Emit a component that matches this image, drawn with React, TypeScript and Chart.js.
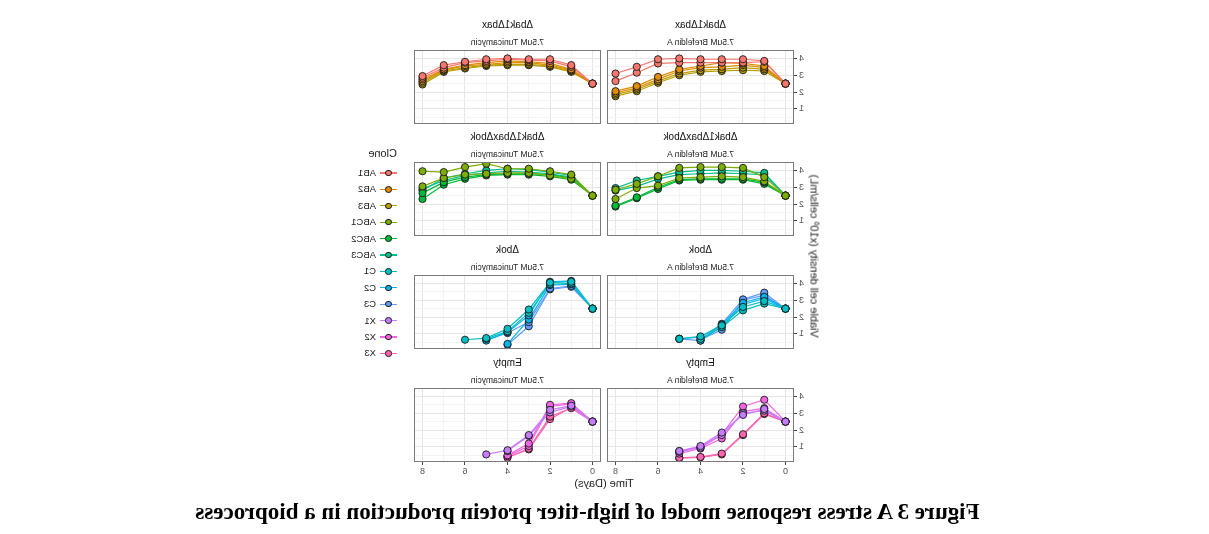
import React, { useEffect, useRef } from "react";
import { Chart, registerables } from "chart.js";

Chart.register(...registerables);

// ---------- data ----------
const DAYS = [0, 1, 2, 3, 4, 5, 6, 7, 8];
const X_TICKS = [0, 2, 4, 6, 8];
const X_GRID = [0, 1, 2, 3, 4, 5, 6, 7, 8];
const Y_TICKS = [1, 2, 3, 4];
const Y_GRID = [0.5, 1, 1.5, 2, 2.5, 3, 3.5, 4];

const CLONES = ["AB1", "AB2", "AB3", "ABC1", "ABC2", "ABC3", "C1", "C2", "C3", "X1", "X2", "X3"];
const CLONE_COLORS = [
  "#F8766D", "#DE8C00", "#B79F00", "#7CAE00", "#00BA38", "#00C08B",
  "#00BFC4", "#00B4F0", "#619CFF", "#C77CFF", "#F564E3", "#FF64B0",
];
const GENOTYPES = ["Δbak1Δbax", "Δbak1ΔbaxΔbok", "Δbok", "Empty"];
const TREATMENTS = ["7.5uM Brefeldin A", "7.5uM Tunicamycin"];

// Brefeldin A (two replicate cultures per clone), viable cell density by day
const BFA_AB1 = [[2.5, 3.85, 3.95, 3.95, 3.95, 4.0, 3.95, 3.5, 3.1], [2.5, 3.8, 3.75, 3.75, 3.75, 3.75, 3.7, 3.15, 2.65]];
const BFA_AB2 = [[2.5, 3.55, 3.7, 3.75, 3.55, 3.35, 2.9, 2.35, 2.05], [2.5, 3.45, 3.6, 3.5, 3.45, 3.25, 2.75, 2.25, 1.95]];
const BFA_AB3 = [[2.5, 3.35, 3.45, 3.35, 3.3, 3.1, 2.65, 2.15, 1.85], [2.5, 3.25, 3.3, 3.25, 3.2, 3.0, 2.55, 2.05, 1.75]];
const BFA_ABC1 = [[2.5, 3.6, 4.15, 4.2, 4.2, 4.15, 3.65, 3.2, 2.85], [2.5, 3.35, 3.6, 3.65, 3.6, 3.55, 3.1, 2.95, 2.3]];
const BFA_ABC2 = [[2.5, 3.3, 3.5, 3.5, 3.5, 3.45, 3.0, 2.4, 1.9], [2.5, 3.2, 3.45, 3.45, 3.45, 3.4, 2.9, 2.35, 1.85]];
const BFA_ABC3 = [[2.5, 3.85, 3.95, 4.0, 4.0, 3.9, 3.65, 3.4, 2.95], [2.5, 3.75, 3.8, 3.85, 3.8, 3.75, 3.5, 3.05, 2.8]];
const BFA_C1 = [[2.5, 2.95, 2.6, 1.5, 0.85, 0.7], [2.5, 2.8, 2.4, 1.4, 0.7]];
const BFA_C2 = [[2.5, 3.2, 2.85, 1.55, 0.8, 0.72], [2.5, 3.1, 2.75, 1.45, 0.6]];
const BFA_C3 = [[2.5, 3.45, 3.05, 1.6, 0.6, 0.7], [2.5, 3.3, 3.0, 1.25, 0.65]];
const BFA_X1 = [[2.5, 3.25, 2.9, 1.85, 1.05, 0.75], [2.5, 3.15, 3.0, 1.7, 0.95, 0.7]];
const BFA_X2 = [[2.5, 3.8, 3.4, 1.75, 1.0, 0.75], [2.5, 3.3, 3.1, 1.5, 0.9, 0.6]];
const BFA_X3 = [[2.5, 3.0, 1.75, 0.6, 0.4, 0.35], [2.5, 2.95, 1.7, 0.55, 0.38, 0.33]];

// Tunicamycin
const TM_AB1 = [[2.5, 3.6, 3.95, 3.95, 4.0, 3.95, 3.8, 3.6, 2.95], [2.5, 3.5, 3.85, 3.9, 3.95, 3.85, 3.75, 3.45, 2.85]];
const TM_AB2 = [[2.5, 3.35, 3.7, 3.8, 3.85, 3.75, 3.6, 3.35, 2.75], [2.5, 3.3, 3.6, 3.75, 3.75, 3.65, 3.55, 3.3, 2.65]];
const TM_AB3 = [[2.5, 3.25, 3.55, 3.65, 3.65, 3.6, 3.45, 3.25, 2.55], [2.5, 3.2, 3.5, 3.6, 3.6, 3.55, 3.4, 3.2, 2.45]];
const TM_ABC1 = [[2.5, 3.75, 3.95, 4.1, 4.1, 4.4, 4.2, 3.9, 3.95], [2.5, 3.5, 3.7, 3.85, 3.85, 3.8, 3.75, 3.55, 3.05]];
const TM_ABC2 = [[2.5, 3.55, 3.75, 3.8, 3.8, 3.75, 3.6, 3.3, 2.65], [2.5, 3.45, 3.65, 3.75, 3.75, 3.7, 3.5, 3.15, 2.3]];
const TM_ABC3 = [[2.5, 3.7, 3.9, 4.05, 4.1, 4.0, 3.8, 3.55, 2.8], [2.5, 3.6, 3.8, 3.9, 3.95, 3.85, 3.7, 3.4, 2.9]];
const TM_C1 = [[2.5, 4.1, 4.05, 2.45, 1.3, 0.75, 0.65], [2.5, 4.0, 3.95, 2.25, 1.15, 0.7]];
const TM_C2 = [[2.5, 4.15, 4.1, 2.1, 1.1, 0.6], [2.5, 3.95, 3.9, 1.85, 0.4]];
const TM_C3 = [[2.5, 3.85, 3.7, 1.7, 1.05, 0.65], [2.5, 3.8, 3.65, 1.45, 0.35]];
const TM_X1 = [[2.5, 3.45, 3.2, 1.7, 0.8, 0.55], [2.5, 3.4, 3.05, 1.65, 0.75]];
const TM_X2 = [[2.5, 3.6, 3.5, 1.2, 0.5], [2.5, 3.55, 3.4, 1.05, 0.45]];
const TM_X3 = [[2.5, 3.3, 2.8, 0.9, 0.35], [2.5, 3.35, 2.65, 0.85, 0.4]];

// [genotype row][treatment col] -> list of [clone index, replicates]
const PANEL_SERIES: [number, number[][]][][][] = [
  [
    [[0, BFA_AB1], [1, BFA_AB2], [2, BFA_AB3]],
    [[0, TM_AB1], [1, TM_AB2], [2, TM_AB3]],
  ],
  [
    [[3, BFA_ABC1], [4, BFA_ABC2], [5, BFA_ABC3]],
    [[3, TM_ABC1], [4, TM_ABC2], [5, TM_ABC3]],
  ],
  [
    [[6, BFA_C1], [7, BFA_C2], [8, BFA_C3]],
    [[6, TM_C1], [7, TM_C2], [8, TM_C3]],
  ],
  [
    [[9, BFA_X1], [10, BFA_X2], [11, BFA_X3]],
    [[9, TM_X1], [10, TM_X2], [11, TM_X3]],
  ],
];

// ---------- layout (unmirrored coordinates) ----------
const W = 1209;
const H = 534;
const PANEL_W = 187;
const PANEL_H = 74;
const COL_X = [415, 608];
const ROW_Y = [50, 162, 275, 388];
const Y_AXIS_W = 20;
const X_AXIS_H = 16;
const SANS = "'Liberation Sans', Arial, Helvetica, sans-serif";

const borderPlugin = {
  id: "panelBorder",
  afterDraw(chart: any) {
    const { ctx, chartArea } = chart;
    ctx.save();
    ctx.strokeStyle = "#7a7a7a";
    ctx.lineWidth = 1;
    ctx.strokeRect(
      Math.round(chartArea.left) + 0.5,
      Math.round(chartArea.top) + 0.5,
      Math.round(chartArea.right - chartArea.left) - 1,
      Math.round(chartArea.bottom - chartArea.top) - 1
    );
    ctx.restore();
  },
};

function zeroPad(s: any) {
  s.paddingTop = 0;
  s.paddingBottom = 0;
  s.paddingLeft = 0;
  s.paddingRight = 0;
}

function Panel({ row, col }: { row: number; col: number }) {
  const ref = useRef<HTMLCanvasElement>(null);
  const showY = col === 0;
  const showX = row === GENOTYPES.length - 1;
  const yW = showY ? Y_AXIS_W : 0;
  const xH = showX ? X_AXIS_H : 0;
  const w = PANEL_W + yW;
  const h = PANEL_H + xH;

  useEffect(() => {
    if (!ref.current) return;
    const pointSets: any[] = [];
    const lineSets: any[] = [];
    PANEL_SERIES[row][col].forEach(([ci, reps]) => {
      reps.forEach((vals) => {
        const data = vals.map((v, i) => ({ x: DAYS[i], y: v }));
        lineSets.push({
          label: CLONES[ci],
          data,
          showLine: true,
          borderColor: CLONE_COLORS[ci],
          borderWidth: 1.2,
          pointRadius: 0,
          fill: false,
          tension: 0,
          clip: false,
        });
        pointSets.push({
          label: CLONES[ci],
          data,
          showLine: false,
          pointRadius: 3.6,
          pointBackgroundColor: CLONE_COLORS[ci],
          pointBorderColor: "#1a1a1a",
          pointBorderWidth: 0.9,
          clip: false,
        });
      });
    });
    const chart = new Chart(ref.current, {
      type: "scatter",
      data: { datasets: [...pointSets, ...lineSets] },
      options: {
        animation: false,
        responsive: false,
        maintainAspectRatio: false,
        devicePixelRatio: 1,
        events: [],
        layout: { padding: 0, autoPadding: false },
        plugins: { legend: { display: false }, tooltip: { enabled: false } },
        scales: {
          x: {
            type: "linear",
            min: -0.4,
            max: 8.4,
            afterBuildTicks: (s: any) => {
              s.ticks = X_GRID.map((v) => ({ value: v }));
            },
            afterFit: (s: any) => {
              s.height = xH;
              zeroPad(s);
            },
            border: { display: false },
            grid: {
              color: (c: any) => (X_TICKS.includes(c.tick?.value) ? "#e6e6e6" : "#f3f3f3"),
              lineWidth: 1,
              drawTicks: showX,
              tickLength: 3,
              tickColor: (c: any) => (X_TICKS.includes(c.tick?.value) ? "#444" : "rgba(0,0,0,0)"),
            },
            ticks: {
              display: showX,
              autoSkip: false,
              maxRotation: 0,
              padding: 1,
              color: "#555",
              font: { family: SANS, size: 9 },
              callback: (v: any) => (X_TICKS.includes(Number(v)) ? String(v) : ""),
            },
          },
          y: {
            type: "linear",
            min: 0.1,
            max: 4.5,
            afterBuildTicks: (s: any) => {
              s.ticks = Y_GRID.map((v) => ({ value: v }));
            },
            afterFit: (s: any) => {
              s.width = yW;
              zeroPad(s);
            },
            border: { display: false },
            grid: {
              color: (c: any) => (Y_TICKS.includes(c.tick?.value) ? "#e6e6e6" : "#f3f3f3"),
              lineWidth: 1,
              drawTicks: showY,
              tickLength: 3,
              tickColor: (c: any) => (Y_TICKS.includes(c.tick?.value) ? "#444" : "rgba(0,0,0,0)"),
            },
            ticks: {
              display: showY,
              autoSkip: false,
              padding: 2,
              color: "#555",
              font: { family: SANS, size: 9 },
              callback: (v: any) => (Y_TICKS.includes(Number(v)) ? String(v) : ""),
            },
          },
        },
      },
      plugins: [borderPlugin],
    });
    return () => chart.destroy();
  }, []);

  return (
    <canvas
      ref={ref}
      width={w}
      height={h}
      style={{ position: "absolute", left: COL_X[col] - yW, top: ROW_Y[row], width: w, height: h }}
    />
  );
}

function abs(x: number, y: number, extra: React.CSSProperties = {}): React.CSSProperties {
  return {
    position: "absolute",
    left: x,
    top: y,
    transform: "translate(-50%, -50%)",
    whiteSpace: "nowrap",
    fontFamily: SANS,
    lineHeight: 1,
    ...extra,
  };
}

export default function App() {
  const legendTop = 173;
  const legendStep = 16.4;
  return (
    <div
      style={{
        position: "fixed",
        left: 0,
        top: 0,
        width: W,
        height: H,
        background: "#fff",
        transform: "scaleX(-1)",
        overflow: "hidden",
      }}
    >
      {GENOTYPES.map((g, r) =>
        TREATMENTS.map((t, c) => (
          <React.Fragment key={`${r}-${c}`}>
            <div style={abs(COL_X[c] + PANEL_W / 2, ROW_Y[r] - 25, { fontSize: 10, color: "#111" })}>{g}</div>
            <div style={abs(COL_X[c] + PANEL_W / 2, ROW_Y[r] - 8.5, { fontSize: 8.5, color: "#222" })}>{t}</div>
            <Panel row={r} col={c} />
          </React.Fragment>
        ))
      )}

      {/* axis titles */}
      <div style={abs((COL_X[0] + COL_X[1] + PANEL_W) / 2, 483, { fontSize: 11, color: "#222" })}>Time (Days)</div>
      <div
        style={abs(395, (ROW_Y[0] + ROW_Y[3] + PANEL_H) / 2, {
          fontSize: 11,
          color: "#222",
          transform: "translate(-50%, -50%) rotate(-90deg)",
        })}
      >
        Viable cell density (x10<sup style={{ fontSize: 7, verticalAlign: "4px", lineHeight: 0 }}>6</sup> cells/mL)
      </div>

      {/* legend */}
      <div style={{ position: "absolute", left: 812, top: 153, transform: "translateY(-50%)", fontFamily: SANS, fontSize: 11, color: "#222", lineHeight: 1 }}>
        Clone
      </div>
      {CLONES.map((name, i) => {
        const y = legendTop + i * legendStep;
        return (
          <React.Fragment key={name}>
            <div style={{ position: "absolute", left: 812, top: y - 0.6, width: 17, height: 1.2, background: CLONE_COLORS[i] }} />
            <div
              style={{
                position: "absolute",
                left: 820.5 - 3.3,
                top: y - 3.3,
                width: 6.6,
                height: 6.6,
                boxSizing: "border-box",
                borderRadius: "50%",
                background: CLONE_COLORS[i],
                border: "0.8px solid #1a1a1a",
              }}
            />
            <div style={{ position: "absolute", left: 833, top: y, transform: "translateY(-50%)", fontFamily: SANS, fontSize: 9.5, color: "#222", lineHeight: 1 }}>
              {name}
            </div>
          </React.Fragment>
        );
      })}

      {/* caption */}
      <div
        style={{
          position: "absolute",
          left: 621.5,
          top: 500,
          transform: "translateX(-50%)",
          whiteSpace: "nowrap",
          fontFamily: "'Liberation Serif', 'Times New Roman', serif",
          fontWeight: "bold",
          fontSize: 23,
          lineHeight: "23px",
          color: "#000",
        }}
      >
        Figure 3 A stress response model of high-titer protein production in a bioprocess
      </div>
    </div>
  );
}
